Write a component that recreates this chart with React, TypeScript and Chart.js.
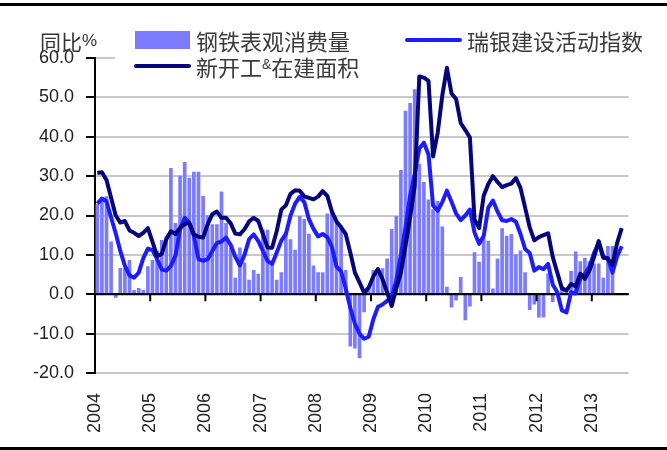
import React, { useEffect, useRef } from 'react';
import { Chart, registerables } from 'chart.js';

Chart.register(...registerables);

// ---- data ----
const years = ['2004', '2005', '2006', '2007', '2008', '2009', '2010', '2011', '2012', '2013'];
const monthNames = ['01', '02', '03', '04', '05', '06', '07', '08', '09', '10', '11', '12'];
// Jan 2004 .. Aug 2013
const monthLabels = years.flatMap((y) => monthNames.map((m) => `${y}-${m}`)).slice(0, 116);

const yTickValues = [-20, -10, 0, 10, 20, 30, 40, 50, 60];

// 钢铁表观消费量 (yoy %)
const steelConsumption = [
  22.8, 24.5, 24.8, 13.3, -0.8, 6.6, 6.6, 8.6, 1.0, 1.5, 1.0, 7.0,
  8.6, 11.0, 13.7, 14.6, 32.0, 18.0, 30.0, 33.5, 29.5, 31.0, 31.0, 24.9,
  20.0, 17.7, 17.7, 26.0, 18.0, 11.8, 4.1, 11.8, 8.0, 3.6, 6.1, 5.1,
  16.3, 16.3, 7.6, 3.6, 5.5, 14.9, 13.9, 11.2, 19.8, 19.0, 15.3, 7.2,
  5.5, 5.5, 20.4, 20.5, 18.5, 17.4, 6.1, -13.2, -13.7, -16.2, -4.5, 2.0,
  6.1, 6.0, 6.5, 9.0, 16.5, 19.8, 31.5, 46.5, 48.5, 52.0, 33.0, 28.4,
  24.0, 21.5, 23.6, 17.1, 1.8, -3.3, -1.5, 4.3, -6.5, -3.0, 10.6, 8.2,
  14.2, 13.5, 1.4, 9.0, 16.7, 14.8, 15.2, 10.0, 11.0, 5.5, -3.9, -2.5,
  -5.8, -5.8, 5.2, -1.9, 0.5, 2.0, 1.0, 5.8, 10.8, 8.3, 9.2, 8.3,
  7.7, 7.7, 4.1, 12.2, 12.2,
];

// 瑞银建设活动指数
const ubsConstructionIndex = [
  23, 24.3, 23.6, 19.5, 15.5, 11, 7.2, 4.8, 4.2, 5.5, 9.2, 11.6,
  11.2, 8.9, 6.3, 6, 7.2, 9.8, 16.5, 19.4, 18, 14.8, 8.9, 8.5,
  8.9, 11, 13, 13.4, 14.4, 12.5, 9.5, 7.3, 10, 14, 15.2, 13.5,
  11, 8.5, 7.7, 10.6, 13.6, 15.3, 20, 23, 24.7, 23.4, 19.1, 16.6,
  14.7, 15.3, 14.5, 12, 7, 5.8, 1.5, -3.5, -7.5, -10, -11.3, -10.8,
  -6.4, -3.2, -2.6, -1.7, -0.5, 3.5, 10, 17, 25, 30.5, 37, 38.5,
  35.5, 22.5, 21.2, 23.4, 26.3, 23.5, 20.5, 18.8, 20, 21.5, 15.7, 12.8,
  14.8, 22, 23.8, 21, 18.8, 18.6, 19.1, 18.4, 15.3, 11.5, 10.5, 6,
  6.9, 6.4, 7.7, 2.5, 0.5, -4.1, -4.6, 0.5, 0.2, 4, 5.2, 7,
  10.5, 13, 9.2, 9.2, 5.5, 9.6, 12.2,
];

// 新开工&在建面积
const newStartsAndUnderConstruction = [
  30.8, 31, 29, 24.5, 20, 18.2, 18.6, 16.2, 15.6, 14.8, 15.6, 16.8,
  13.3, 9.7, 10.2, 14, 16, 15.3, 16.9, 17.8, 18.2, 15.2, 14.6, 14.4,
  17.8, 20.3, 21, 19.4, 19.4, 18, 15.4, 15.2, 16.5, 18.5, 19.4, 18.6,
  15.3, 11.9, 11.8, 16, 21.5, 22.6, 25.5, 26.4, 26.3, 24.8, 24.5, 24.1,
  24.8, 26.2, 25, 21, 18.5, 17, 15.3, 10.6, 5.5, 3, 0.4, 1.7,
  4.5, 6.4, 3.8, 0.5, -3, 1.5, 5.5, 12.3, 19.5, 27.5, 55.3, 55,
  54.2, 35, 41, 50.5, 57.5, 51, 49.6, 43.5, 41.7, 39.8, 19, 16.8,
  25, 28, 30, 28.5, 27.2, 27.7, 28.1, 29.5, 27, 22, 17, 13.7,
  14.5, 15, 15.5, 9.5, 5.5, 1.5, 1, 2.6, 2, 5.2, 3.9, 6,
  9.5, 13.5, 9.5, 9, 7.5, 13, 16.8,
];

const BAR_COLOR = '#7b7bff';
const BLUE = '#1c1cff';
const NAVY = '#05057c';
const LATIN = "'Liberation Sans', Arial, sans-serif";
const CJK = "'Noto Sans CJK SC', 'Noto Sans', sans-serif";

// zero axis + year tick marks, drawn after the bar dataset (below the lines)
const zeroAxisPlugin = {
  id: 'zeroAxis',
  afterDatasetDraw(chart: any, args: any) {
    if (args.index !== 0) return;
    const { ctx, chartArea, scales } = chart;
    const y0 = scales.y.getPixelForValue(0);
    ctx.save();
    ctx.strokeStyle = '#000';
    ctx.lineWidth = 2;
    ctx.beginPath();
    ctx.moveTo(chartArea.left, y0);
    ctx.lineTo(chartArea.right, y0);
    years.forEach((_, k) => {
      const x = scales.xYear.getPixelForValue(12 * k - 0.5);
      ctx.moveTo(x, y0);
      ctx.lineTo(x, y0 + 7);
    });
    ctx.stroke();
    ctx.restore();
  },
};

export default function App() {
  const ref = useRef<HTMLCanvasElement>(null);

  useEffect(() => {
    if (!ref.current) return;
    const chart = new Chart(ref.current, {
      type: 'bar',
      data: {
        labels: monthLabels,
        datasets: [
          {
            type: 'bar',
            label: '钢铁表观消费量',
            data: steelConsumption,
            backgroundColor: BAR_COLOR,
            barThickness: 3,
            order: 3,
            xAxisID: 'x',
            yAxisID: 'y',
          },
          {
            type: 'line',
            label: '瑞银建设活动指数',
            data: ubsConstructionIndex,
            borderColor: BLUE,
            borderWidth: 4,
            pointRadius: 0,
            tension: 0,
            borderJoinStyle: 'round',
            order: 2,
            xAxisID: 'x',
            yAxisID: 'y',
          },
          {
            type: 'line',
            label: '新开工&在建面积',
            data: newStartsAndUnderConstruction,
            borderColor: NAVY,
            borderWidth: 4,
            pointRadius: 0,
            tension: 0,
            borderJoinStyle: 'round',
            order: 1,
            xAxisID: 'x',
            yAxisID: 'y',
          },
        ] as any,
      },
      options: {
        animation: false,
        responsive: false,
        devicePixelRatio: 1,
        layout: { padding: { top: 58, right: 38.4, bottom: 0, left: 0 } },
        plugins: { legend: { display: false }, tooltip: { enabled: false } },
        scales: {
          x: {
            type: 'category',
            display: false,
            offset: true,
          },
          xYear: {
            type: 'linear',
            position: 'bottom',
            offset: false,
            bounds: 'data',
            min: -0.5,
            max: monthLabels.length - 0.5,
            afterBuildTicks: (scale: any) => {
              scale.ticks = years.map((_, k) => ({ value: 12 * k - 0.5 }));
            },
            afterFit: (scale: any) => {
              scale.height = 77;
            },
            grid: { display: false, drawTicks: false, offset: false },
            border: { display: false },
            ticks: {
              autoSkip: false,
              minRotation: 90,
              maxRotation: 90,
              padding: 20,
              color: '#222',
              font: { family: LATIN, size: 18 },
              callback: (_v: any, index: number) => years[index],
            },
          },
          y: {
            type: 'linear',
            min: yTickValues[0],
            max: yTickValues[yTickValues.length - 1],
            afterFit: (scale: any) => {
              scale.width = 95;
            },
            afterBuildTicks: (scale: any) => {
              scale.ticks = yTickValues.map((v) => ({ value: v }));
            },
            ticks: {
              padding: 12,
              color: '#222',
              font: { family: LATIN, size: 18 },
              callback: (v: any) => Number(v).toFixed(1),
            },
            grid: {
              color: (c: any) => (c.tick && c.tick.value === 0 ? '#000' : '#c8c8c8'),
              lineWidth: 2,
              tickColor: '#000',
              tickLength: 9,
              tickWidth: 2,
            },
            border: { color: '#000', width: 2 },
          },
        },
      } as any,
      plugins: [zeroAxisPlugin],
    });
    return () => chart.destroy();
  }, []);

  const legendText: React.CSSProperties = {
    position: 'absolute',
    fontFamily: CJK,
    fontSize: 22,
    lineHeight: '22px',
    color: '#3a3a3a',
    whiteSpace: 'nowrap',
  };

  return (
    <div
      style={{
        position: 'absolute',
        left: 0,
        top: 0,
        width: 667,
        height: 450,
        background: '#fff',
        overflow: 'hidden',
      }}
    >
      <canvas ref={ref} width={667} height={450} style={{ position: 'absolute', left: 0, top: 0 }} />
      {/* frame lines */}
      <div style={{ position: 'absolute', left: 0, top: 3, width: 667, height: 3, background: '#000' }} />
      <div style={{ position: 'absolute', left: 0, top: 447, width: 667, height: 3, background: '#000' }} />
      {/* unit label */}
      <div
        style={{
          position: 'absolute',
          left: 40,
          top: 31,
          fontFamily: CJK,
          fontSize: 21,
          lineHeight: '21px',
          color: '#333',
          whiteSpace: 'nowrap',
        }}
      >
        同比
        <span style={{ fontFamily: LATIN, fontSize: 17, position: 'relative', top: -4 }}>%</span>
      </div>
      {/* legend */}
      <div style={{ position: 'absolute', left: 115, top: 22, width: 545, height: 40, background: '#fff' }} />
      <div style={{ position: 'absolute', left: 135, top: 31, width: 55, height: 18, background: BAR_COLOR }} />
      <div style={{ ...legendText, left: 196, top: 29 }}>钢铁表观消费量</div>
      <div style={{ position: 'absolute', left: 405, top: 38, width: 57, height: 4, borderRadius: 2, background: BLUE }} />
      <div style={{ ...legendText, left: 467, top: 29 }}>瑞银建设活动指数</div>
      <div style={{ position: 'absolute', left: 134, top: 64, width: 57, height: 4, borderRadius: 2, background: NAVY }} />
      <div style={{ ...legendText, left: 196, top: 55 }}>
        新开工
        <span style={{ fontFamily: LATIN, fontSize: 14, position: 'relative', top: -7 }}>&amp;</span>
        在建面积
      </div>
    </div>
  );
}
